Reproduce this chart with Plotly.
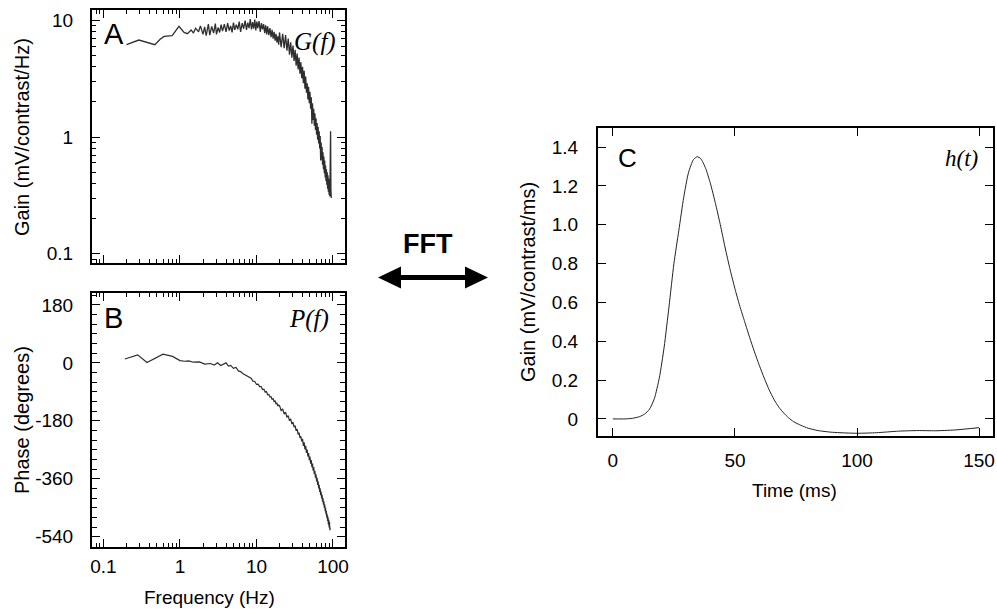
import plotly.graph_objects as go

W, H = 997, 609

# ---------------- data ----------------
freq_gain = [0.2, 0.29, 0.47, 0.55, 0.62, 0.79, 0.97, 1.13, 1.25, 1.4, 1.5, 1.6, 1.75, 1.85,
             2.0, 2.1, 2.2, 2.35, 2.45, 2.6, 2.75, 2.9, 3.0, 3.15, 3.3, 3.45, 3.6, 3.8, 4.0,
             4.2, 4.4, 4.6, 4.8, 5.0, 5.2, 5.45, 5.7, 5.95, 6.2, 6.5, 6.8, 7.1, 7.4, 7.7, 8.0,
             8.3, 8.6, 8.9, 9.2, 9.5, 9.8, 10.1, 10.4, 10.8, 11.2, 11.6, 12.0, 12.4, 12.8,
             13.2, 13.6, 14.0, 14.5, 15.0, 15.5, 16.0, 16.5, 17.0, 17.5, 18.0, 18.5, 19.0,
             19.5, 20, 21, 22, 23, 24, 25, 26, 27, 28, 29, 30, 31, 32, 33, 34, 35, 36, 37,
             38, 39, 40, 41, 42, 43, 44, 45, 46, 47, 48, 49, 50, 51, 52, 53, 54, 55, 56, 57,
             58, 59, 60, 61, 62, 63, 64, 65, 66, 67, 68, 69, 70, 71, 72, 73, 74, 75, 76, 77,
             78, 79, 80, 81, 82, 83, 84, 85, 86, 87, 88, 89, 90, 91, 92, 93, 94, 95]
gain = [6.2, 6.8, 6.2, 6.9, 7.3, 7.4, 8.9, 7.9, 7.7, 8.3, 7.8, 8.6, 8.0, 9.0,
        7.6, 8.8, 7.4, 9.3, 7.5, 8.9, 7.8, 9.4, 7.6, 8.7, 7.9, 9.2, 8.1, 9.3, 8.0,
        9.5, 8.2, 9.0, 7.9, 9.6, 8.3, 9.2, 8.4, 9.8, 8.0, 9.5, 8.5, 10.0, 8.3, 9.6, 8.6,
        10.3, 8.4, 9.7, 8.5, 10.2, 8.2, 9.8, 8.6, 9.9, 8.0, 9.5, 8.4, 9.3, 7.8,
        9.1, 7.6, 8.9, 7.5, 8.6, 7.2, 8.3, 7.0, 8.0, 6.7, 7.7, 6.5, 7.3,
        6.2, 7.9, 5.9, 7.7, 5.8, 7.5, 5.5, 7.0, 5.1, 6.5, 4.8, 6.1, 4.5, 5.6, 4.1, 5.2, 3.8, 4.8, 3.5,
        4.4, 3.2, 4.0, 2.9, 3.7, 2.6, 3.3, 2.4, 2.9, 2.1, 2.7, 1.95, 2.45, 1.75, 2.2, 1.3, 1.95, 1.4, 1.75, 1.25,
        1.6, 1.15, 1.45, 1.05, 1.32, 0.95, 1.22, 0.88, 1.12, 0.8, 1.02, 0.63, 0.9, 0.64, 0.82, 0.58, 0.74, 0.53, 0.68, 0.49,
        0.63, 0.45, 0.57, 0.42, 0.53, 0.39, 0.5, 0.36, 0.47, 0.34, 0.44, 0.32, 0.42, 0.31, 0.6, 1.12, 0.35, 0.3]

freq_phase = [0.19, 0.28, 0.37, 0.48, 0.6, 0.8, 1.0, 1.15, 1.3, 1.5, 1.8, 2.1, 2.5, 2.8, 3.1, 3.4,
              3.7, 4.0, 4.3, 4.6, 5.0, 5.4, 5.8, 6.2, 6.6, 7.0, 7.5, 8.0, 8.5, 9.0, 9.5, 10, 10.5,
              11, 11.5, 12, 12.5, 13, 13.5, 14, 14.5, 15, 15.5, 16, 16.5, 17, 17.5, 18, 18.5, 19,
              19.5, 20, 21, 22, 23, 24, 25, 26, 27, 28, 29, 30, 31, 32, 33, 34, 35, 36, 37, 38, 39,
              40, 41, 42, 43, 44, 45, 46, 47, 48, 49, 50, 51, 52, 53, 54, 55, 56, 57, 58, 59, 60,
              61, 62, 63, 64, 65, 66, 67, 68, 69, 70, 71, 72, 73, 74, 75, 76, 77, 78, 79, 80, 81,
              82, 83, 84, 85, 86, 87, 88, 89, 90, 91, 92]
phase = [12, 25, 1, 16, 27, 20, 7, 5, 6, 2, 3, -4, -2, -7, 0, -8,
         -3, 0, -10, -8, -17, -14, -25, -27, -33, -36, -40, -45, -48, -57, -58, -67, -66,
         -74, -74, -83, -82, -91, -89, -99, -98, -106, -105, -113, -111, -120, -118, -127, -125, -134,
         -131, -133, -148, -143, -159, -153, -169, -164, -180, -174, -190, -184, -200, -195, -211, -206, -222, -217, -233, -228, -244,
         -236, -258, -247, -269, -258, -280, -269, -291, -280, -302, -291, -313, -302, -324, -313, -335, -324, -346, -335, -357, -346,
         -368, -357, -379, -368, -390, -379, -401, -390, -411, -400, -421, -410, -431, -420, -441, -430, -451, -440, -461, -450, -471,
         -460, -481, -470, -491, -478, -502, -487, -511, -494, -520, -512]

time_ms = [0, 5, 8, 11, 13, 15, 17, 19, 21, 23, 25, 27, 29, 31, 33, 34.5, 36, 38, 40, 42, 44,
           46, 48, 50, 52, 54, 56, 58, 60, 62, 64, 66, 68, 70, 72, 74, 77, 80, 84, 90, 100,
           108, 117, 125, 132, 140, 150]
impulse = [0, 0, 0.003, 0.012, 0.025, 0.05, 0.105, 0.21, 0.37, 0.58, 0.8, 0.97, 1.14, 1.27,
           1.335, 1.35, 1.34, 1.29, 1.21, 1.11, 1.0, 0.88, 0.77, 0.67, 0.58, 0.5, 0.42, 0.345,
           0.275, 0.21, 0.15, 0.1, 0.06, 0.03, 0.005, -0.014, -0.033, -0.048, -0.06, -0.069,
           -0.074, -0.071, -0.063, -0.06, -0.061, -0.057, -0.045]

freq_ticks = [0.1, 1, 10, 100]
freq_tick_labels = ["0.1", "1", "10", "100"]
gain_ticks = [0.1, 1, 10]
gain_tick_labels = ["0.1", "1", "10"]
phase_ticks = [180, 0, -180, -360, -540]
phase_tick_labels = ["180", "0", "-180", "-360", "-540"]
time_ticks = [0, 50, 100, 150]
time_tick_labels = ["0", "50", "100", "150"]
h_ticks = [0, 0.2, 0.4, 0.6, 0.8, 1.0, 1.2, 1.4]
h_tick_labels = ["0", "0.2", "0.4", "0.6", "0.8", "1.0", "1.2", "1.4"]

# ---------------- helpers ----------------
def px(x):
    return x / W

def py(y):
    return 1 - y / H

FONT = "Liberation Sans, Arial, Helvetica, sans-serif"
SERIF = "Liberation Serif, Times New Roman, serif"
LINE = "#2e2e2e"

fig = go.Figure()
fig.add_trace(go.Scatter(x=freq_gain, y=gain, mode="lines", line=dict(color=LINE, width=1.3),
                         xaxis="x", yaxis="y", showlegend=False))
fig.add_trace(go.Scatter(x=freq_phase, y=phase, mode="lines", line=dict(color=LINE, width=1.2),
                         xaxis="x2", yaxis="y2", showlegend=False))
fig.add_trace(go.Scatter(x=time_ms, y=impulse, mode="lines",
                         line=dict(color="#222", width=1, shape="spline", smoothing=0.6),
                         xaxis="x3", yaxis="y3", showlegend=False))

common = dict(showline=True, linecolor="black", linewidth=2, mirror="ticks", ticks="inside",
              tickcolor="black", showgrid=False, zeroline=False, automargin=False,
              tickfont=dict(family=FONT, size=19, color="black"))

minor_log = dict(ticks="inside", ticklen=4, tickcolor="black", tickwidth=1, dtick="D1", showgrid=False)

lay = dict(
    width=W, height=H, margin=dict(l=0, r=0, t=0, b=0, autoexpand=False),
    paper_bgcolor="white", plot_bgcolor="white",
    showlegend=False,
    xaxis=dict(common, type="log", domain=[px(92), px(345)], range=[-1.15, 2.157],
               tickvals=freq_ticks, ticktext=freq_tick_labels, showticklabels=False,
               ticklen=8, tickwidth=1, minor=minor_log, anchor="y"),
    yaxis=dict(common, type="log", domain=[py(263), py(10)], range=[-1.08, 1.09],
               tickvals=gain_ticks, ticktext=gain_tick_labels, ticklen=8, tickwidth=1,
               minor=minor_log, anchor="x", ticklabelstandoff=13),
    xaxis2=dict(common, type="log", domain=[px(92), px(345)], range=[-1.15, 2.157],
                tickvals=freq_ticks, ticktext=freq_tick_labels, ticklen=8, tickwidth=1,
                minor=minor_log, anchor="y2", ticklabelstandoff=1),
    yaxis2=dict(common, domain=[py(547), py(293)], range=[-572, 217],
                tickvals=phase_ticks, ticktext=phase_tick_labels, ticklen=8, tickwidth=1,
                minor=dict(ticks="inside", ticklen=5, tickcolor="black", dtick=30, tick0=0, showgrid=False),
                anchor="x2", ticklabelstandoff=13),
    xaxis3=dict(common, domain=[px(598), px(993)], range=[-6.1, 155.7],
                tickvals=time_ticks, ticktext=time_tick_labels, ticklen=8, tickwidth=1,
                anchor="y3", ticklabelstandoff=6),
    yaxis3=dict(common, domain=[py(436), py(128)], range=[-0.088, 1.498],
                tickvals=h_ticks, ticktext=h_tick_labels, ticklen=8, tickwidth=1,
                anchor="x3", ticklabelstandoff=14),
)
fig.update_layout(**lay)

def ann(text, x, y, size, family=FONT, angle=0, xanchor="center"):
    fig.add_annotation(text=text, x=px(x), y=py(y), xref="paper", yref="paper",
                       showarrow=False, textangle=angle, xanchor=xanchor, yanchor="middle",
                       font=dict(family=family, size=size, color="black"))

# panel letters and function labels
ann("A", 114, 34, 29)
ann("B", 113, 318, 29)
ann("C", 627, 158, 26)
ann("<i>G(f)</i>", 315, 42, 25, family=SERIF)
ann("<i>P(f)</i>", 309, 319, 25, family=SERIF)
ann("<i>h(t)</i>", 961, 158, 23, family=SERIF)

# axis titles
ann("Gain (mV/contrast/Hz)", 22, 137, 20, angle=-90)
ann("Phase (degrees)", 22, 420, 20, angle=-90)
ann("Frequency (Hz)", 209, 597, 19)
ann("Gain (mV/contrast/ms)", 528, 282, 20, angle=-90)
ann("Time (ms)", 794, 490, 19)

# FFT label and double arrow
ann("<b>FFT</b>", 428, 244, 27)
ym = 277.5
fig.add_shape(type="rect", xref="paper", yref="paper",
              x0=px(398), x1=px(468), y0=py(ym + 2.5), y1=py(ym - 2.5),
              fillcolor="black", line=dict(width=0))
left_head = f"M {px(378)},{py(ym)} L {px(401)},{py(ym - 11)} L {px(401)},{py(ym + 11)} Z"
right_head = f"M {px(488)},{py(ym)} L {px(465)},{py(ym - 11)} L {px(465)},{py(ym + 11)} Z"
for p in (left_head, right_head):
    fig.add_shape(type="path", path=p, xref="paper", yref="paper",
                  fillcolor="black", line=dict(width=0))

fig.write_html("out.html", config={"displayModeBar": False},
               post_script="document.body.style.margin='0';document.body.style.overflow='hidden';")
